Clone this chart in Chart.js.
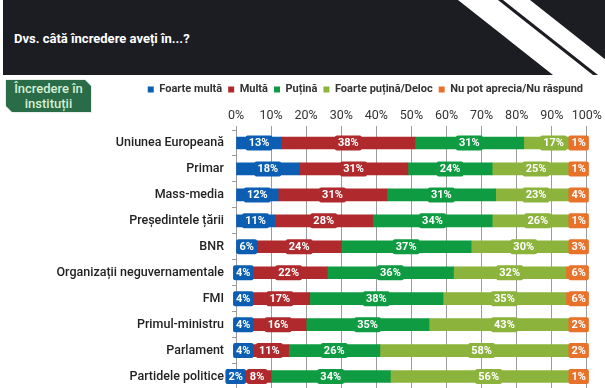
<!DOCTYPE html>
<html>
<head>
<meta charset="utf-8">
<script src="https://cdn.jsdelivr.net/npm/chart.js@4/dist/chart.umd.min.js"></script>
<style>
  html,body{margin:0;padding:0;background:#fff;overflow:hidden;width:605px;height:388px;}
  #wrap{position:absolute;left:0;top:0;width:605px;height:405px;}
  #hdr{position:absolute;left:3px;top:0;width:602px;height:75px;}
  #title{position:absolute;left:11px;top:31px;color:#fff;font:bold 13px Roboto,sans-serif;}
  #badge{position:absolute;left:5px;top:79px;width:87px;height:34px;background:#e8efe9;
    clip-path:polygon(0 0,80px 0,87px 7px,87px 34px,7px 34px,0 27px);}
  #badgeIn{position:absolute;left:1px;top:1px;width:85px;height:32px;background:#2a6b48;
    clip-path:polygon(0 0,79px 0,85px 6px,85px 32px,6px 32px,0 26px);
    color:#d2f0d2;font:500 13px Roboto,sans-serif;line-height:15px;text-align:center;padding-top:1px;box-sizing:border-box;}
  canvas{position:absolute;left:0;top:0;}
</style>
</head>
<body>
<div id="hdr">
  <svg width="602" height="75" style="position:absolute;left:0;top:0">
    <rect x="0" y="0" width="602" height="75" fill="#1b1d22"/>
    <polygon points="455,0 495,0 590,75 550,75" fill="#ffffff"/>
    <polygon points="500,0 527,0 622,75 595,75" fill="#ffffff"/>
  </svg>
  <div id="title">Dvs. câtă încredere aveți în...?</div>
</div>
<div id="badge"><div id="badgeIn">Încredere în<br>instituții</div></div>
<div id="wrap"><canvas id="c" width="605" height="405"></canvas></div>
<script>
const categories = ["Uniunea Europeană","Primar","Mass-media","Președintele țării","BNR","Organizații neguvernamentale","FMI","Primul-ministru","Parlament","Partidele politice"];
const seriesNames = ["Foarte multă","Multă","Puțină","Foarte puțină/Deloc","Nu pot aprecia/Nu răspund"];
const foarteMulta = [13,18,12,11,6,4,4,4,4,2];
const multa       = [38,31,31,28,24,22,17,16,11,8];
const putina      = [31,24,31,34,37,36,38,35,26,34];
const foartePutina= [17,25,23,26,30,32,35,43,58,56];
const nuStiu      = [1,1,4,1,3,6,6,2,2,1];
const xTicks = [0,10,20,30,40,50,60,70,80,90,100];
const colors = ["#0b5eb2","#b02a2d","#0f9b42","#8cb33b","#e8722a"];

const allSeries = [foarteMulta,multa,putina,foartePutina,nuStiu];
const FONT = 'Roboto, sans-serif';

const labelPlugin = {
  id:'segLabels',
  afterDatasetsDraw(chart){
    const ctx = chart.ctx;
    const ca = chart.chartArea;
    ctx.save();
    ctx.font = 'bold 11px ' + FONT;
    ctx.textAlign = 'center';
    ctx.textBaseline = 'middle';
    const n = chart.data.datasets.length;
    for (let i=0;i<chart.data.labels.length;i++){
      const boxes=[];
      for (let d=0; d<n; d++){
        const el = chart.getDatasetMeta(d).data[i];
        const v = chart.data.datasets[d].data[i];
        const txt = v + '%';
        const w = ctx.measureText(txt).width + 6;
        let cx = (el.x + el.base)/2;
        if (d === n-1) cx = ca.right + 2 - w/2;
        boxes.push({cx, w, y: el.y, txt, color: chart.data.datasets[d].backgroundColor});
      }
      for (let k=n-2;k>=0;k--){
        const nxtLeft = boxes[k+1].cx - boxes[k+1].w/2;
        if (boxes[k].cx + boxes[k].w/2 > nxtLeft - 1){
          boxes[k].cx = nxtLeft - 1 - boxes[k].w/2;
        }
      }
      boxes.forEach(b=>{
        const h = 15;
        ctx.fillStyle = b.color;
        ctx.beginPath();
        ctx.roundRect(b.cx - b.w/2, b.y - h/2, b.w, h, 2);
        ctx.fill();
        ctx.fillStyle = '#ffffff';
        ctx.fillText(b.txt, b.cx, b.y + 0.5);
      });
    }
    ctx.restore();
  }
};

new Chart(document.getElementById('c'), {
  type:'bar',
  data:{
    labels: categories,
    datasets: seriesNames.map((name,idx)=>({
      label:name,
      data: allSeries[idx],
      backgroundColor: colors[idx],
      borderWidth:0,
      barThickness:12
    }))
  },
  options:{
    indexAxis:'y',
    responsive:false,
    animation:false,
    layout:{padding:{top:78,right:16,bottom:9,left:0}},
    plugins:{
      legend:{
        display:true,
        position:'top',
        align:'end',
        labels:{
          boxWidth:6, boxHeight:6, padding:6,
          color:'#333',
          font:{family:FONT, size:11, weight:'bold'}
        }
      },
      tooltip:{enabled:false}
    },
    scales:{
      x:{
        position:'top',
        stacked:true,
        min:0,max:100,
        afterBuildTicks(scale){ scale.ticks = xTicks.map(v=>({value:v})); },
        afterFit(scale){ scale.height = 25; },
        ticks:{
          callback:v=>v+'%',
          color:'#333',
          padding:3,
          maxRotation:0, minRotation:0, autoSkip:false,
          font:{family:FONT,size:12.5}
        },
        grid:{color:'#9c9c9c', lineWidth:1, tickLength:4},
        border:{display:false}
      },
      y:{
        stacked:true,
        afterFit(scale){ scale.width = 236; },
        ticks:{
          color:'#222',
          padding:8,
          font:{family:FONT,size:12.5,weight:'500'}
        },
        grid:{display:true, drawOnChartArea:false, drawTicks:true, tickLength:4, color:'#9c9c9c', offset:true},
        border:{display:true, color:'#9c9c9c'}
      }
    }
  },
  plugins:[labelPlugin]
});
</script>
</body>
</html>
